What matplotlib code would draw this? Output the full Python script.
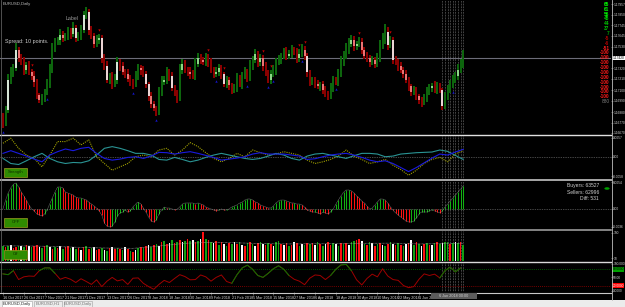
import numpy as np
import matplotlib
matplotlib.use("Agg")
import matplotlib.pyplot as plt
from matplotlib.patches import Rectangle, Circle
from matplotlib.lines import Line2D

plt.rcParams["font.family"] = ["Liberation Sans Narrow", "Liberation Sans", "DejaVu Sans"]

# ---- values (EURUSD daily, one entry per bar) ----
first_open = 1.1684
closes = [1.1678, 1.1690, 1.1720, 1.1728, 1.1732, 1.1750, 1.1742, 1.1738, 1.1730, 1.1735,
          1.1728, 1.1724, 1.1718, 1.1705, 1.1700, 1.1702, 1.1708, 1.1716, 1.1730, 1.1752,
          1.1758, 1.1760, 1.1765, 1.1762, 1.1764, 1.1768, 1.1766, 1.1772, 1.1762, 1.1764,
          1.1770, 1.1785, 1.1788, 1.1770, 1.1764, 1.1756, 1.1760, 1.1762, 1.1742, 1.1734,
          1.1720, 1.1724, 1.1716, 1.1720, 1.1738, 1.1734, 1.1728, 1.1726, 1.1721, 1.1718,
          1.1716, 1.1724, 1.1732, 1.1730, 1.1726, 1.1716, 1.1704, 1.1696, 1.1692, 1.1688,
          1.1708, 1.1718, 1.1720, 1.1728, 1.1724, 1.1712, 1.1708, 1.1702, 1.1730, 1.1736,
          1.1730, 1.1728, 1.1726, 1.1724, 1.1736, 1.1742, 1.1740, 1.1738, 1.1742, 1.1738,
          1.1730, 1.1726, 1.1728, 1.1732, 1.1726, 1.1716, 1.1720, 1.1715, 1.1710, 1.1712,
          1.1722, 1.1716, 1.1724, 1.1728, 1.1722, 1.1734, 1.1740, 1.1746, 1.1738, 1.1742,
          1.1734, 1.1728, 1.1720, 1.1726, 1.1730, 1.1738, 1.1740, 1.1744, 1.1748, 1.1744,
          1.1746, 1.1750, 1.1748, 1.1742, 1.1746, 1.1750, 1.1744, 1.1728, 1.1718, 1.1720,
          1.1716, 1.1714, 1.1716, 1.1710, 1.1706, 1.1704, 1.1712, 1.1720, 1.1718, 1.1726,
          1.1738, 1.1744, 1.1750, 1.1756, 1.1760, 1.1754, 1.1756, 1.1758, 1.1750, 1.1744,
          1.1742, 1.1738, 1.1740, 1.1736, 1.1742, 1.1754, 1.1760, 1.1768, 1.1755, 1.1760,
          1.1740, 1.1738, 1.1734, 1.1730, 1.1726, 1.1720, 1.1714, 1.1708, 1.1710, 1.1704,
          1.1700, 1.1698, 1.1702, 1.1708, 1.1712, 1.1714, 1.1710, 1.1714, 1.1710, 1.1694,
          1.1704, 1.1710, 1.1716, 1.1720, 1.1724, 1.1730, 1.1736, 1.1742]
# wick lengths in pips above / below the candle body
upper_wick = [3, 4, 6, 5, 4, 7, 3, 4, 5, 3,
              4, 3, 5, 3, 2, 4, 3, 5, 6, 5,
              4, 3, 6, 4, 3, 5, 4, 6, 3, 4,
              5, 4, 5, 3, 4, 3, 5, 4, 3, 4,
              5, 3, 4, 6, 5, 3, 4, 3, 5, 4,
              3, 5, 4, 3, 4, 3, 2, 4, 3, 2,
              5, 6, 4, 5, 3, 4, 3, 2, 6, 5,
              4, 3, 5, 4, 6, 5, 4, 3, 5, 4,
              4, 3, 5, 4, 3, 2, 4, 3, 2, 4,
              5, 3, 4, 5, 3, 6, 4, 5, 3, 4,
              3, 4, 2, 4, 5, 4, 5, 3, 4, 5,
              4, 5, 3, 4, 5, 6, 4, 3, 2, 3,
              3, 4, 2, 3, 4, 3, 5, 4, 3, 5,
              6, 5, 7, 6, 5, 4, 3, 5, 4, 3,
              4, 3, 4, 3, 5, 6, 7, 8, 5, 4,
              3, 4, 3, 4, 3, 4, 3, 2, 4, 3,
              2, 3, 4, 5, 4, 3, 5, 4, 3, 2,
              4, 5, 4, 5, 4, 6, 5, 8]
lower_wick = [6, 4, 3, 4, 5, 3, 4, 3, 5, 4,
              3, 4, 5, 4, 3, 5, 4, 3, 4, 3,
              4, 3, 5, 4, 3, 4, 5, 3, 4, 3,
              4, 3, 4, 5, 3, 4, 3, 4, 5, 4,
              3, 4, 5, 3, 4, 5, 3, 4, 3, 4,
              5, 3, 4, 5, 3, 4, 5, 4, 3, 4,
              3, 4, 3, 4, 5, 3, 4, 5, 3, 4,
              3, 4, 5, 3, 4, 3, 4, 3, 4, 5,
              3, 4, 3, 4, 5, 3, 4, 5, 4, 3,
              4, 3, 5, 3, 4, 3, 4, 3, 5, 4,
              5, 4, 3, 4, 3, 5, 3, 4, 3, 4,
              3, 4, 3, 5, 4, 3, 4, 5, 4, 3,
              4, 3, 5, 4, 3, 4, 3, 4, 3, 4,
              3, 4, 3, 4, 3, 5, 4, 3, 4, 3,
              4, 5, 3, 4, 3, 4, 3, 4, 5, 3,
              4, 3, 5, 3, 4, 3, 5, 4, 3, 4,
              4, 5, 3, 4, 3, 4, 3, 4, 3, 4,
              3, 4, 3, 4, 3, 4, 3, 4]
# bars whose real body shows as a light block
light_body = [2, 5, 6, 9, 11, 12, 14, 22, 23, 27, 28, 31, 33, 35, 37, 38, 40, 44, 46, 48,
              53, 55, 56, 57, 58, 62, 65, 69, 72, 75, 77, 82, 83, 85, 87, 97, 99, 100, 103,
              110, 114, 116, 117, 121, 123, 134, 135, 136, 138, 139, 141, 143, 148, 150,
              153, 154, 155, 157, 160, 165, 169, 175]
up_fractals = [11, 37, 79, 85, 100, 103, 114, 116, 137, 149]
down_fractals = [0, 17, 50, 59, 82, 94, 102, 104, 115, 128, 173]
current_price = 1.1742
price_ticks = [1.17957, 1.17850, 1.17745, 1.17645, 1.17530, 1.17320, 1.17210,
               1.17100, 1.16990, 1.16880, 1.16770, 1.16670]
meter_values = [65, 61, 56, 48, 44, 37, 7, -5, -6, -51,
                -100, -100, -100, -100, -100, -100, -100, -100, -100, -100]

# strength window, one point every 3 bars (units of 1e-4)
strength_step = 3
olive = [40, 55, 25, 5, -5, -30, 5, 45, 45, 55,
         35, 50, 0, -20, -40, -30, -20, 0, 5, 0,
         20, 25, 5, 20, 42, 30, 12, -5, -15, -5,
         10, 0, 20, 12, 5, 8, 15, 10, 5, -10,
         -20, -15, -8, 2, 20, 2, -8, -20, -15, -8,
         -25, -38, -55, -40, -20, -8, -2, -15, 8, 18]
blue = [10, 18, 10, 2, -7, -15, 5, 15, 23, 18,
        25, 28, 10, -5, -10, -7, -2, 0, -5, 2,
        13, 12, 8, 12, 15, 10, 4, -2, -10, -7,
        -4, 0, 8, 12, 8, 8, 8, 5, 2, -8,
        -6, 0, 5, 8, 10, 5, -2, -10, -15, -12,
        -20, -32, -44, -32, -18, -4, 8, 5, 14, 22]
teal = [-5, -20, -23, -12, 0, 10, -5, -15, -20, -17,
        -18, -12, 5, 25, 30, 25, 18, 10, 10, 5,
        -8, -10, -2, -8, -15, -10, -2, 5, 10, 5,
        0, -5, -8, -5, 2, 10, 5, -5, -10, 2,
        8, 10, 5, 0, -5, 3, 10, 10, 8, 0,
        2, 8, 10, 12, 13, 14, 20, 16, 4, -8]
p1_ticks = [57, 0, -58]
p1_labels = ["0.0057", "0.00", "-0.0058"]

# oscillator histogram, one value per bar (units of 1e-4)
hist = [0, 18, 32, 42, 50, 52, 44, 34, 26, 18,
        8, 0, -4, -10, -12, -14, -10, -2, 10, 22,
        34, 44, 44, 42, 34, 32, 30, 28, 24, 22,
        22, 20, 18, 14, 10, 6, 2, -4, -12, -28,
        -34, -36, -34, -26, -14, -8, -6, -2, -6, -4,
        4, 10, 14, 10, 2, -6, -16, -24, -26, -22,
        -10, -2, 4, 2, 2, 0, -2, 0, 4, 10,
        12, 12, 12, 12, 10, 12, 10, 8, 4, 2,
        0, -2, -4, -2, 0, -2, -2, 0, 4, 6,
        8, 12, 14, 18, 20, 20, 18, 14, 12, 8,
        6, 4, 2, 2, 6, 12, 16, 18, 18, 16,
        14, 12, 12, 10, 10, 8, 4, -2, -4, -6,
        -6, -8, -10, -6, -8, -10, -6, 0, 10, 18,
        26, 34, 38, 38, 36, 32, 26, 22, 16, 12,
        6, 0, 2, 8, 14, 20, 20, 18, 12, 4,
        -2, -8, -12, -16, -20, -24, -26, -26, -24, -18,
        -10, -6, -6, -6, -4, -2, -4, -6, -8, -4,
        4, 10, 16, 22, 28, 34, 40, 46]
p2_ticks = [54, 0, -36]
p2_labels = ["0.0054", "0.00", "-0.0036"]
buyers, sellers = 63527, 62996

# tick volume (thousands) and bar colours g/r/w
volume = [92, 88, 96, 101, 85, 90, 98, 94, 87, 104,
          96, 90, 95, 102, 88, 80, 92, 99, 86, 75,
          90, 84, 96, 78, 88, 93, 82, 90, 76, 85,
          70, 88, 92, 74, 80, 86, 68, 78, 84, 72,
          66, 80, 88, 76, 82, 74, 70, 86, 78, 64,
          58, 72, 80, 90, 84, 96, 102, 88, 104, 110,
          98, 120, 126, 108, 116, 130, 112, 122, 135, 118,
          128, 140, 124, 132, 118, 126, 138, 185, 142, 130,
          120, 112, 126, 104, 118, 110, 98, 114, 106, 120,
          110, 118, 104, 98, 116, 122, 108, 96, 112, 120,
          106, 100, 114, 108, 96, 118, 124, 110, 102, 116,
          98, 104, 120, 112, 94, 108, 100, 114, 106, 112,
          104, 118, 108, 96, 110, 120, 102, 114, 106, 98,
          116, 108, 112, 100, 118, 124, 134, 140, 128, 110,
          104, 120, 114, 98, 108, 116, 104, 96, 110, 118,
          106, 100, 112, 104, 96, 108, 114, 130, 102, 118,
          106, 98, 110, 116, 104, 100, 112, 120, 108, 114,
          118, 122, 110, 116, 120, 112, 118, 100]
volume_colors = ("grgwrrgwgr" "wgrrwgrgwr" "grwgrrgwgr" "wrgrgwrrgw" "grwrgrgwrg"
                 "rwgrgrwgrg" "wrgrwgrgrw" "grgwrgwrgr" "gwrgrwgrgw" "rgwrgrgwrg"
                 "wrgrwggrwr" "grwrgwgrgr" "wgrgwrrgwg" "rgrwggrrwg" "rgwrgrwgrg"
                 "wrgrgwrwgr" "gwrgrwgrgw" "ggrgwgrg")
vol_ma_idx = [0, 10, 20, 30, 40, 50, 60, 70, 80, 90, 100, 110, 120, 130, 140, 150, 160, 170, 177]
vol_ma = [96, 95, 92, 86, 82, 80, 95, 112, 118, 115, 110, 108, 109, 110, 112, 113, 108, 110, 112]
p3_ticks = [180, 18]
p3_labels = ["180", "18"]

# bottom oscillator, one point every 2 bars
rsi_step = 2
rsi = [63, 60, 75, 42, 52, 55, 54, 75, 85, 85,
       65, 43, 50, 43, 31, 45, 35, 24, 41, 16,
       36, 50, 37, 42, 24, 47, 48, 28, 16, 6,
       24, 39, 31, 46, 60, 53, 41, 42, 59, 52,
       36, 50, 59, 35, 28, 60, 85, 95, 80, 57,
       50, 65, 82, 93, 80, 57, 43, 36, 23, 47,
       59, 57, 42, 57, 80, 96, 98, 75, 41, 22,
       46, 62, 52, 82, 55, 42, 39, 20, 12, 16,
       43, 63, 57, 62, 48, 75, 88, 70, 85]
rsi_green = [(0, 2), (7, 10), (44, 55), (63, 67), (84, 88)]
rsi_levels = [80, 20]
p4_ticks = [100, 50, 0]
p4_labels = ["100.0000", "50.00", "0.0000"]

date_labels = ["16 Oct 2017", "26 Oct 2017", "7 Nov 2017", "21 Nov 2017", "1 Dec 2017",
               "13 Dec 2017", "26 Dec 2017", "8 Jan 2018", "18 Jan 2018", "30 Jan 2018",
               "9 Feb 2018", "21 Feb 2018", "5 Mar 2018", "15 Mar 2018", "27 Mar 2018",
               "6 Apr 2018", "18 Apr 2018", "30 Apr 2018", "10 May 2018", "22 May 2018",
               "1 Jun 2018"]
tabs = ["EURUSD,Daily", "EURUSD,H1", "EURUSD,Daily"]

# ---- layout (pixel based, MT4 look) --------------------------------------
W, H = 625, 307
PLOT_R = 611
TICK_FS = 2.7
AXIS_FS = 2.35
fig = plt.figure(figsize=(W / 100, H / 100), dpi=100, facecolor="black")
n = len(closes)
idx = np.arange(n)
DOT = (0, (1, 1.5))


def fx(x):
    return x / W


def fy(y):
    return 1 - y / H


def panel(y0, y1):
    ax = fig.add_axes([0, fy(y1), PLOT_R / W, (y1 - y0) / H])
    ax.set_facecolor("black")
    for s in ax.spines.values():
        s.set_visible(False)
    ax.set_xlim(-1.15, (PLOT_R - 3) / 2.6)
    ax.set_xticks([])
    ax.yaxis.tick_right()
    ax.tick_params(axis="y", colors="#9a9a9a", labelcolor="#d4d4d4",
                   labelsize=AXIS_FS, length=1.2, width=0.4, pad=0.4)
    for i in range(169, n):
        ax.axvline(i, color="#a8a8a8", ls=DOT, lw=0.45, zorder=0.5)
    return ax


def side_box(ax, y, text, fc, tc):
    ax.text(1.0025, y, text, transform=ax.get_yaxis_transform(), fontsize=AXIS_FS,
            color=tc, ha="left", va="center", clip_on=False,
            bbox=dict(boxstyle="square,pad=0.1", fc=fc, ec="none"))


# main chart
ax0 = panel(0, 134)
c = np.array(closes)
o = np.array([first_open] + closes[:-1])
hi = np.maximum(o, c) + np.array(upper_wick) * 1e-4
lo = np.minimum(o, c) - np.array(lower_wick) * 1e-4
bull = c >= o
ax0.vlines(idx, lo, hi, colors=np.where(bull, "#0d650d", "#8a0000"), lw=1.45, zorder=2)
lb = np.array(light_body)
b0 = np.minimum(o[lb], c[lb])
b1 = np.maximum(np.maximum(o[lb], c[lb]), b0 + 0.0002)
big = (b1 - b0) >= 0.0010
bcol = np.where(big, "#ffffff", np.where(bull[lb], "#a8eca0", "#ff8c8c"))
ax0.vlines(lb, b0, b1, colors=bcol, lw=1.2, zorder=3)
ax0.scatter(up_fractals, hi[up_fractals] + 0.0004, marker="v", s=3, color="#c00000",
            lw=0, zorder=4)
ax0.scatter(down_fractals, lo[down_fractals] - 0.0004, marker="^", s=3, color="#1414c8",
            lw=0, zorder=4)
ax0.axhline(current_price, color="#6c6c78", lw=0.8, zorder=1)
ax0.set_ylim(1.1666, 1.1800)
ax0.set_yticks(price_ticks)
ax0.set_yticklabels([f"{v:.5f}" for v in price_ticks])
side_box(ax0, current_price, f"{current_price:.5f}", "white", "black")

# strength lines
ax1 = panel(135.5, 179)
sx = idx[::strength_step]
ax1.axhline(0, color="#8a8a8a", ls=DOT, lw=0.5)
ax1.plot(sx, olive, color="#a0a000", ls=(0, (1, 1)), lw=0.8)
ax1.plot(sx, teal, color="#2a9494", lw=0.8)
ax1.plot(sx, blue, color="#1a1ae0", lw=0.8)
ax1.set_ylim(-66, 63)
ax1.set_yticks(p1_ticks)
ax1.set_yticklabels(p1_labels)

# histogram
ax2 = panel(180.5, 229)
h = np.array(hist)
rising = np.r_[True, h[1:] >= h[:-1]]
ax2.vlines(idx, 0, h, colors=np.where(rising, "#12b012", "#ff1010"), lw=0.75)
ax2.plot(idx, h, color="#bbbbbb", ls=(0, (1, 1)), lw=0.4)
ax2.axhline(0, color="#8a8a8a", ls=DOT, lw=0.5)
ax2.set_ylim(-40, 57)
ax2.set_yticks(p2_ticks)
ax2.set_yticklabels(p2_labels)

# volume
ax3 = panel(230.5, 261)
vc = {"g": "#12a012", "r": "#ff1010", "w": "#ffffff"}
ax3.bar(idx, volume, width=0.62, color=[vc[k] for k in volume_colors], lw=0)
ax3.plot(vol_ma_idx, vol_ma, color="#a0a0a0", ls=(0, (1, 1)), lw=0.5)
ax3.set_ylim(0, 193)
ax3.set_yticks(p3_ticks)
ax3.set_yticklabels(p3_labels)

# bottom oscillator + date axis
ax4 = panel(262.5, 292)
rx = idx[::rsi_step]
r = np.array(rsi)
ax4.axhline(rsi_levels[0], color="#007000", ls=DOT, lw=0.6)
ax4.axhline(rsi_levels[1], color="#a00000", ls=DOT, lw=0.6)
ax4.plot(rx, r, color="#a00000", lw=0.7)
for a, b in rsi_green:
    ax4.plot(rx[a:b + 1], r[a:b + 1], color="#007a00", lw=0.7)
ax4.set_ylim(-4, 105)
ax4.set_yticks(p4_ticks)
ax4.set_yticklabels(p4_labels)
side_box(ax4, rsi_levels[0], f"{rsi_levels[0]:.4f}", "#00a000", "black")
side_box(ax4, rsi_levels[1], f"{rsi_levels[1]:.4f}", "#ff0000", "white")
ax4.set_xticks(idx[::8][:len(date_labels)])
ax4.set_xticklabels(date_labels, ha="left")
ax4.tick_params(axis="x", colors="#9a9a9a", labelcolor="#d8d8d8", labelsize=TICK_FS,
                length=2, width=0.4, pad=0.8)

# separators and frame
for y, col, lw in [(134.7, "#e0e0e0", 1.0), (179.8, "#a8a8a8", 1.4),
                   (229.8, "#a8a8a8", 1.1), (261.8, "#d8d8d8", 1.0), (292.5, "#c8c8c8", 0.8)]:
    fig.add_artist(Line2D([0, fx(PLOT_R)], [fy(y), fy(y)], color=col, lw=lw))
fig.add_artist(Line2D([fx(PLOT_R + 0.5)] * 2, [fy(0), fy(300)], color="#c0c0c0", lw=0.6))
fig.add_artist(Line2D([fx(0.8)] * 2, [fy(0), fy(292)], color="#707070", lw=0.5))

# texts on main chart
fig.text(fx(3), fy(4), "EURUSD,Daily", fontsize=3.0, color="#c0c0c0", va="center")
fig.text(fx(66), fy(19), "Label", fontsize=3.8, color="#9a9a9a", va="center")
fig.text(fx(5), fy(42), "Spread: 10 points.", fontsize=3.8, color="#d0d0d0", va="center")


def meter_color(v):
    if v >= 50:
        return "#00ff00"
    if v >= 30:
        return "#00cc00"
    if v > 0:
        return "#00a000"
    if v > -50:
        return "#b00000"
    return "#ff1a1a"


for k, v in enumerate(meter_values):
    fig.text(fx(609.5), fy(4.3 + 4.87 * k), str(v), ha="right", va="center",
             fontsize=3.4, fontweight="bold", color=meter_color(v))
fig.text(fx(609.5), fy(4.3 + 4.87 * len(meter_values)), "880", ha="right", va="center",
         fontsize=3.4, color="#808080")

# buyers / sellers block
for k, s in enumerate([f"Buyers: {buyers}", f"Sellers: {sellers}", f"Diff: {buyers - sellers}"]):
    fig.text(fx(599), fy(185.5 + 6.5 * k), s, ha="right", va="center", fontsize=3.6,
             color="#d0d0d0")
fig.add_artist(Circle((fx(607), fy(188.5)), 2.6 / W, transform=fig.transFigure,
                      fc="#00a000", ec="none"))


def button(x0, y0, x1, y1, label):
    fig.add_artist(Rectangle((fx(x0), fy(y1)), (x1 - x0) / W, (y1 - y0) / H,
                             transform=fig.transFigure, fc="#2f8c00", ec="#9a9a20", lw=0.5))
    fig.text(fx((x0 + x1) / 2), fy((y0 + y1) / 2), label, fontsize=3, color="#0c2a00",
             ha="center", va="center")


button(4, 168, 27, 176.5, "Strength")
button(4, 218, 27, 226.5, "OFF")
button(4, 250, 27, 258.5, "Off")

# time highlight under the dotted columns
fig.add_artist(Rectangle((fx(431), fy(299.3)), 46 / W, 6 / H, transform=fig.transFigure,
                         fc="#5c5c5c", ec="none", zorder=5))
fig.text(fx(454), fy(296.3), "6 Jun 2018 00:00", fontsize=TICK_FS, color="#d0d0d0",
         ha="center", va="center", zorder=6)

# tab bar
fig.add_artist(Rectangle((0, 0), 1, 7 / H, transform=fig.transFigure, fc="#ececec", ec="none"))
for (x0, x1), name, active in zip([(2, 32), (34, 62), (64, 92)], tabs, [True, False, False]):
    fig.add_artist(Rectangle((fx(x0), fy(306.5)), (x1 - x0) / W, 6 / H,
                             transform=fig.transFigure, fc="white" if active else "#ececec",
                             ec="#a0a0a0", lw=0.4))
    fig.text(fx((x0 + x1) / 2), fy(303.5), name, fontsize=3, ha="center", va="center",
             color="#202020" if active else "#707070")

fig.savefig("out.png", dpi=100, facecolor="black")
